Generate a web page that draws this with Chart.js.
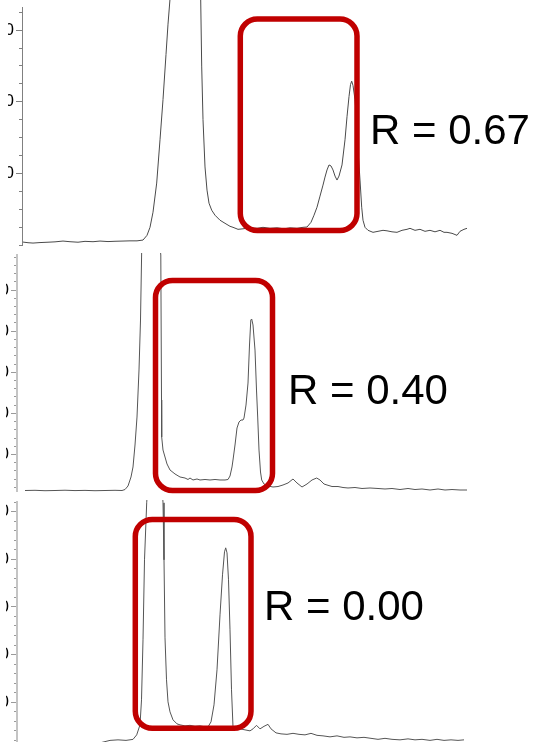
<!DOCTYPE html>
<html>
<head>
<meta charset="utf-8">
<script src="https://cdn.jsdelivr.net/npm/chart.js@4/dist/chart.umd.min.js"></script>
<style>
  html, body { margin: 0; padding: 0; background: #fff; overflow: hidden; width: 535px; height: 742px; }
  .panel { position: absolute; overflow: hidden; }
  .panel canvas { position: absolute; }
  .rlabel { position: absolute; font-family: "Liberation Sans", Arial, sans-serif; font-size: 42px; line-height: 42px; color: #000; white-space: nowrap; }
</style>
</head>
<body>
<div class="panel" style="left:8px;top:0;width:527px;height:247px">
  <canvas id="run1" width="490" height="278" style="left:-26px;top:-13px;width:490px;height:278px"></canvas>
</div>
<div class="panel" style="left:6px;top:253px;width:529px;height:242px">
  <canvas id="run2" width="495" height="276" style="left:-29px;top:-18px;width:495px;height:276px"></canvas>
</div>
<div class="panel" style="left:6px;top:500px;width:529px;height:242px">
  <canvas id="run3" width="495" height="283" style="left:-29px;top:-18px;width:495px;height:283px"></canvas>
</div>
<div class="rlabel" id="r1" style="left:370px;top:109px"></div>
<div class="rlabel" id="r2" style="left:288px;top:369px"></div>
<div class="rlabel" id="r3" style="left:264px;top:585px"></div>

<script>
// Run 1: retention time and detector signal
const run1Time = [0.1, 0.6, 1.1, 1.8, 2.6, 3.3, 4.1, 4.8, 5.6, 6.3, 7.1, 7.8, 8.6, 9.3, 10.1, 10.8, 11.5, 12.1,
  12.5, 12.8, 13.1, 13.47, 13.8, 14.1, 14.4, 14.6, 14.8, 15.2, 16.4, 17.6, 17.87, 17.97, 18.1, 18.3, 18.5, 18.7,
  18.97, 19.3, 19.8, 20.3, 20.8, 21.1, 21.6, 22.1, 22.8, 23.5, 24.1, 24.8, 25.5, 26.2, 26.8, 27.5, 28.1, 28.5,
  28.9, 29.2, 29.5, 29.8, 30.1, 30.3, 30.5, 30.7, 30.9, 31.1, 31.3, 31.5, 31.7, 32.0, 32.3, 32.5, 32.7, 32.85,
  32.97, 33.1, 33.3, 33.5, 33.6, 33.8, 33.97, 34.1, 34.3, 34.6, 35.1, 35.6, 36.1, 36.5, 37.0, 37.5, 38.0, 38.5,
  38.8, 39.3, 39.8, 40.3, 40.8, 41.3, 41.8, 42.2, 42.5, 43.0, 43.5, 43.8, 44.2, 44.5];
const run1Signal = [41, 32, 27, 34, 39, 44, 55, 46, 39, 51, 46, 55, 48, 52, 55, 58, 58, 69,
  135, 247, 458, 865, 1469, 2031, 2662, 3084, 3436, 4278, 6946, 4278, 3436, 2499, 1750, 1090, 767, 584,
  486, 416, 346, 303, 261, 247, 219, 226, 240, 233, 247, 233, 240, 226, 240, 233, 247, 251,
  317, 416, 528, 683, 837, 949, 1048, 1118, 1104, 1048, 963, 907, 963, 1118, 1469, 1791, 2073, 2242,
  2288, 2228, 2031, 1680, 1329, 907, 528, 346, 247, 205, 177, 191, 205, 198, 184, 177, 205, 219,
  233, 205, 219, 191, 205, 184, 205, 177, 177, 163, 135, 191, 219, 233];

// Run 2
const run2Time = [0.8, 1.8, 2.8, 3.8, 4.8, 5.8, 6.8, 7.8, 8.8, 9.8, 10.5, 10.8, 11.1, 11.4, 11.6, 11.8, 12.0,
  12.2, 12.35, 12.47, 13.3, 14.38, 14.45, 14.47, 14.6, 14.8, 15.0, 15.3, 15.8, 16.3, 16.8, 17.1, 17.3, 17.6,
  18.0, 18.3, 18.8, 19.3, 19.8, 20.3, 20.8, 21.1, 21.3, 21.5, 21.6, 21.8, 22.0, 22.2, 22.4, 22.6, 22.7, 22.9,
  23.1, 23.25, 23.38, 23.47, 23.6, 23.8, 23.95, 24.07, 24.2, 24.35, 24.47, 24.7, 25.1, 25.6, 26.1, 26.6, 27.1,
  27.6, 28.0, 28.5, 29.0, 29.5, 29.97, 30.3, 30.7, 31.0, 31.5, 32.1, 32.6, 33.1, 33.8, 34.5, 35.3, 36.1, 36.8,
  37.5, 38.3, 39.1, 39.8, 40.5, 41.3, 42.1, 42.8, 43.5, 44.3, 45.0];
const run2Signal = [124, 129, 119, 124, 131, 122, 127, 119, 124, 129, 124, 148, 234, 453, 696, 1231, 1912,
  3056, 4272, 5976, 8405, 5854, 2326, 1426, 1109, 939, 769, 623, 526, 453, 428, 392, 428, 380,
  404, 380, 392, 380, 392, 380, 380, 392, 477, 696, 866, 1231, 1645, 1791, 1839, 1839, 1888, 2204,
  2739, 3664, 4272, 4297, 4151, 3542, 2569, 1912, 1109, 574, 380, 282, 234, 209, 221, 258, 307,
  404, 307, 209, 282, 380, 428, 380, 282, 258, 221, 221, 197, 185, 197, 173, 185, 173, 161,
  173, 148, 173, 148, 161, 136, 161, 136, 148, 136, 136];

// Run 3
const run3Time = [0.3, 2.3, 4.3, 6.3, 8.3, 9.3, 10.1, 10.9, 11.6, 11.97, 12.3, 12.45, 12.6, 12.75, 12.97,
  13.3, 13.8, 14.3, 14.6, 14.7, 14.8, 14.95, 15.1, 15.3, 15.6, 16.0, 16.3, 16.8, 17.3, 17.8, 18.3, 18.8, 19.1,
  19.4, 19.7, 20.0, 20.3, 20.55, 20.75, 20.87, 21.0, 21.15, 21.3, 21.45, 21.6, 21.9, 22.3, 22.8, 23.3, 23.6,
  23.95, 24.3, 24.7, 25.1, 25.4, 25.9, 26.4, 27.0, 27.6, 28.2, 28.8, 29.4, 30.0, 30.6, 31.3, 32.0, 32.7, 33.3,
  34.0, 34.7, 35.4, 36.1, 36.8, 37.5, 38.3, 39.1, 39.8, 40.5, 41.3, 42.0, 42.7, 43.4, 44.1, 44.7];
const run3Signal = [134, 141, 132, 139, 145, 197, 208, 197, 218, 313, 523, 1048, 2309, 3990, 5187,
  6301, 7352, 6301, 5187, 3990, 2351, 1469, 1006, 796, 628, 544, 523, 502, 513, 492, 502, 481, 481,
  586, 943, 1679, 2834, 3675, 4158, 4242, 4137, 3570, 2519, 1259, 481, 460, 439, 418, 397, 439,
  513, 439, 492, 534, 439, 355, 334, 324, 345, 324, 313, 345, 303, 292, 271, 292, 261, 271,
  250, 261, 240, 219, 240, 219, 208, 229, 208, 219, 197, 219, 197, 208, 197, 208];

// Labelled major ticks on each signal axis
const run1AxisLabels = [1000, 2000, 3000];
const run2AxisLabels = [1000, 2000, 3000, 4000, 5000];
const run3AxisLabels = [1000, 2000, 3000, 4000, 5000];

// Highlighted window on each run: [time from, time to, signal low, signal high]
const run1Window = [21.83, 33.5, 202, 3156];
const run2Window = [13.85, 25.55, 124, 5233];
const run3Window = [11.83, 23.4, 452, 4839];

// Resolution of the highlighted pair in each run
const rValues = [0.67, 0.40, 0.00];

// Rounded box around the highlighted window, drawn in data coordinates
const windowBox = {
  id: 'windowBox',
  afterDatasetsDraw(chart, args, opts) {
    const xs = chart.scales.x, ys = chart.scales.y;
    const [t0, t1, v0, v1] = opts.window;
    const left = xs.getPixelForValue(t0), right = xs.getPixelForValue(t1);
    const top = ys.getPixelForValue(v1), bottom = ys.getPixelForValue(v0);
    const ctx = chart.ctx;
    ctx.save();
    ctx.strokeStyle = opts.color;
    ctx.lineWidth = opts.width;
    ctx.beginPath();
    ctx.roundRect(left, top, right - left, bottom - top, opts.radius);
    ctx.stroke();
    ctx.restore();
  }
};

function zip(ts, vs) { return ts.map((t, i) => ({ x: t, y: vs[i] })); }

function signalAxis(min, max, step, labels, axisColor, axisWidth, tickColor) {
  return {
    position: 'left',
    min, max,
    border: { display: true, color: axisColor, width: axisWidth },
    grid: {
      drawOnChartArea: false,
      drawTicks: true,
      tickLength: 6,
      tickColor: tickColor,
      tickWidth: 1,
      tickBorderDash: ctx => (ctx.tick && labels.includes(ctx.tick.value)) ? [] : [0, 3, 3, 30]
    },
    ticks: {
      autoSkip: false,
      padding: 2,
      color: '#000',
      font: { family: 'Liberation Sans', size: 17 },
      callback: v => labels.includes(v) ? String(v) : ''
    },
    afterBuildTicks: scale => {
      const ticks = [];
      for (let v = Math.ceil(min / step) * step; v <= max; v += step) ticks.push({ value: v });
      scale.ticks = ticks;
    },
    afterFit: scale => { scale.width = 40; }
  };
}

function drawRun(id, time, signal, xMax, yAxis, window, lineColor, lineWidth) {
  return new Chart(document.getElementById(id), {
    type: 'line',
    data: {
      datasets: [{
        data: zip(time, signal),
        borderColor: lineColor,
        borderWidth: lineWidth,
        pointRadius: 0,
        tension: 0,
        clip: false
      }]
    },
    options: {
      responsive: false,
      devicePixelRatio: 1,
      animation: false,
      events: [],
      layout: { padding: { top: 20, bottom: 20, left: 0, right: 0 } },
      scales: {
        x: { type: 'linear', display: false, min: 0, max: xMax },
        y: yAxis
      },
      plugins: {
        legend: { display: false },
        tooltip: { enabled: false },
        windowBox: { window, color: '#C00000', width: 5.5, radius: 17 }
      }
    },
    plugins: [windowBox]
  });
}

drawRun('run1', run1Time, run1Signal, 45,
  signalAxis(0, 3324, 250, run1AxisLabels, '#808080', 1, '#808080'),
  run1Window, '#4a4a4a', 1);
drawRun('run2', run2Time, run2Signal, 45.5,
  signalAxis(112, 5854, 200, run2AxisLabels, '#c4c4c4', 2, '#9a9a9a'),
  run2Window, '#555555', 1);
drawRun('run3', run3Time, run3Signal, 45.5,
  signalAxis(100, 5205, 200, run3AxisLabels, '#c4c4c4', 2, '#9a9a9a'),
  run3Window, '#555555', 1);

['r1', 'r2', 'r3'].forEach((id, i) => {
  document.getElementById(id).textContent = 'R = ' + rValues[i].toFixed(2);
});
</script>
</body>
</html>
